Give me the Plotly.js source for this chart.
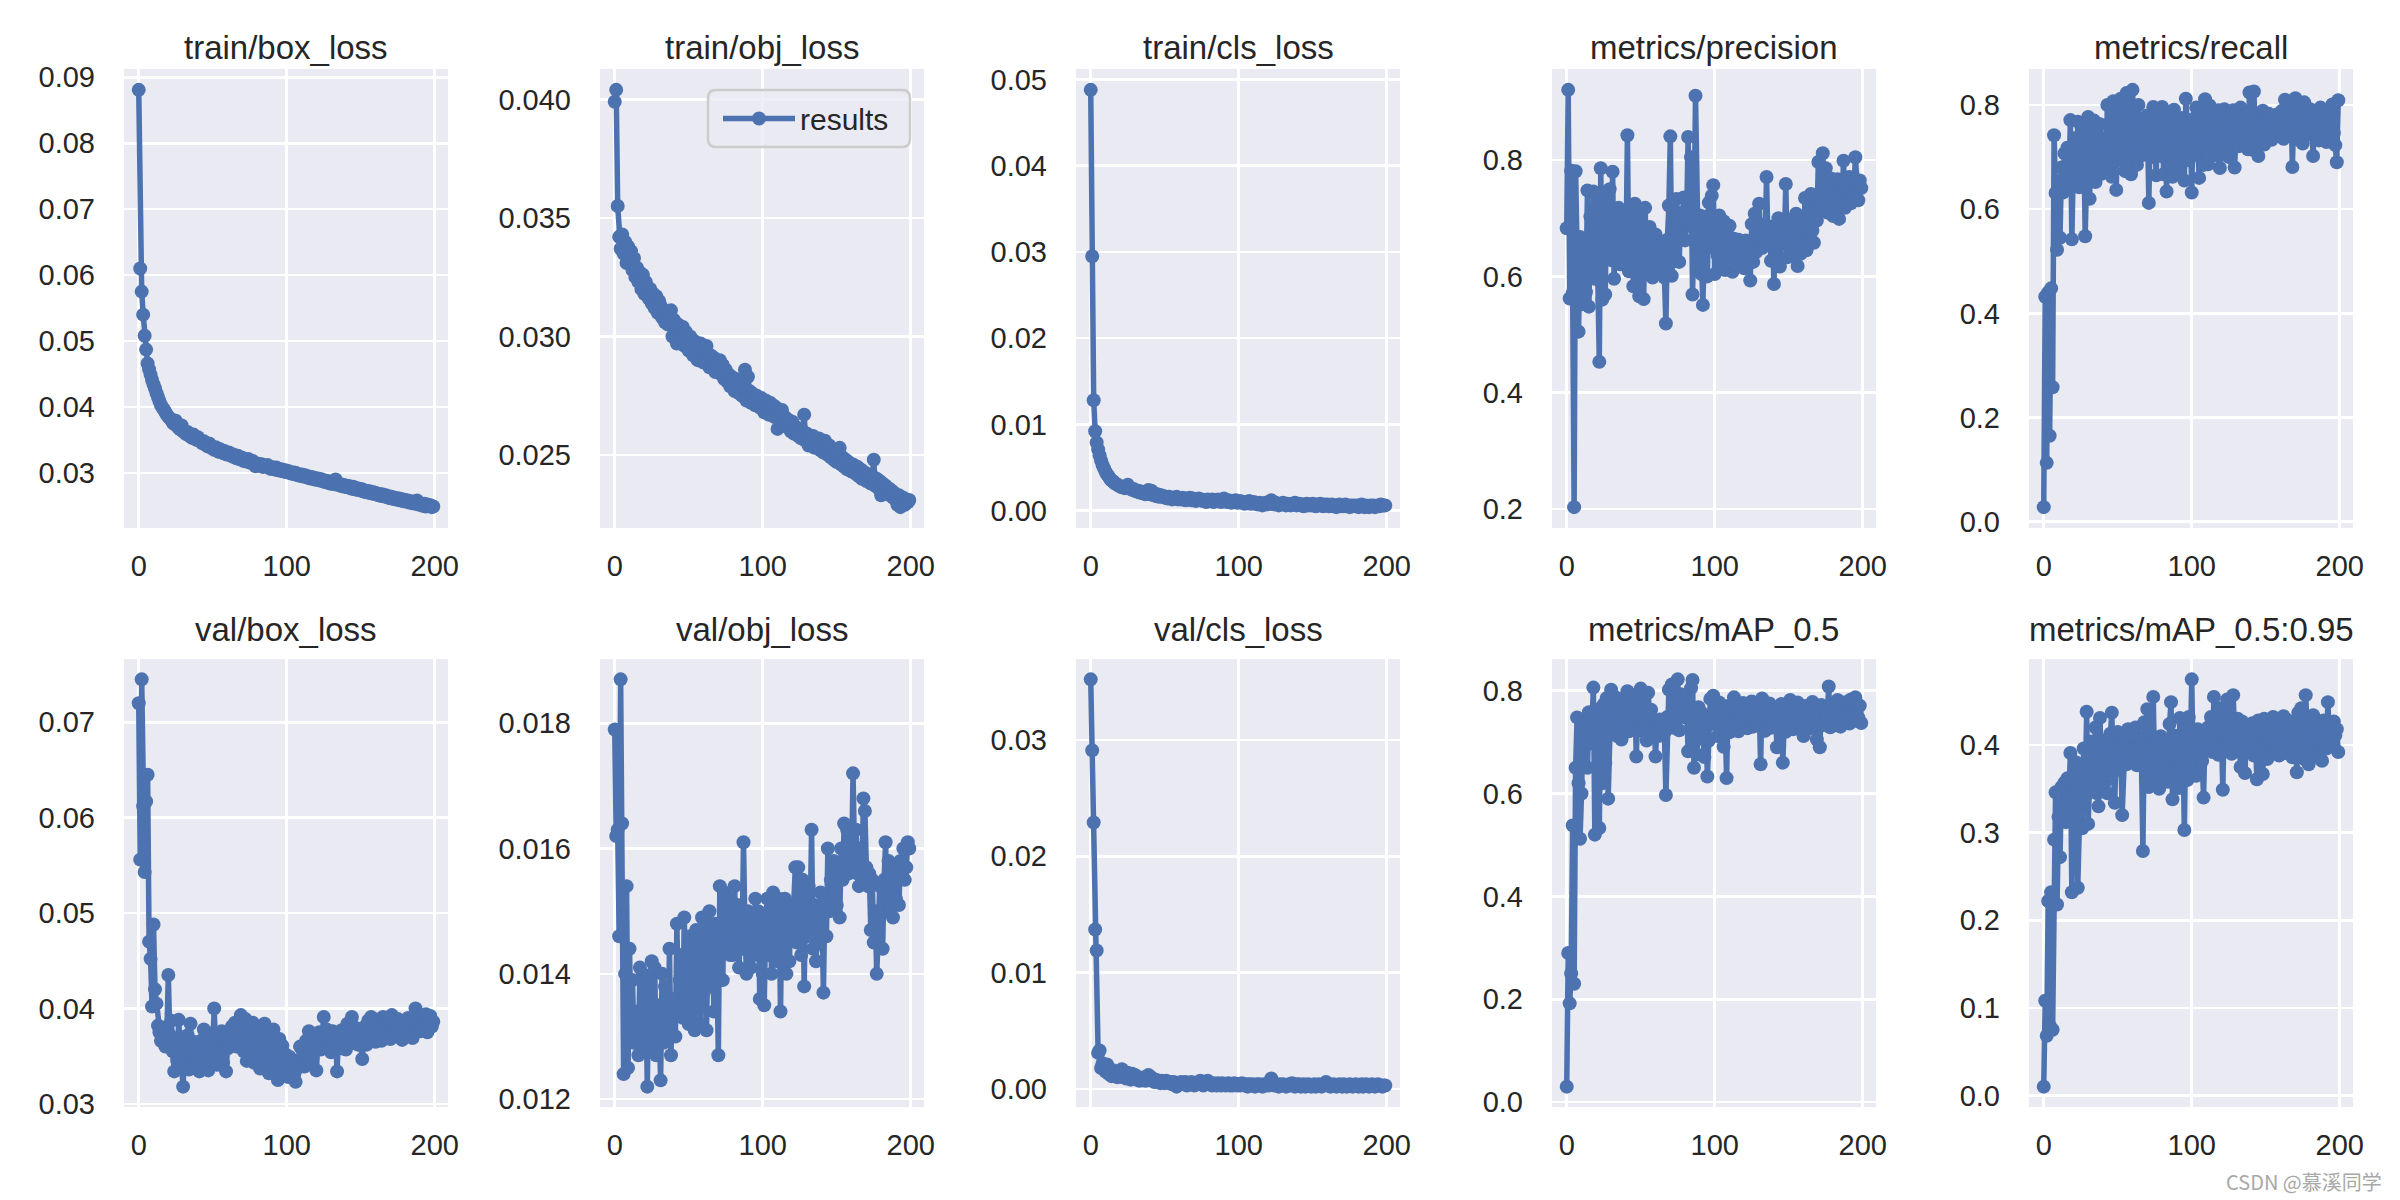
<!DOCTYPE html>
<html>
<head>
<meta charset="utf-8">
<script src="https://cdn.plot.ly/plotly-3.0.1.min.js"></script>
<style>html,body{margin:0;padding:0;background:#fff}#chart{width:2400px;height:1200px}</style>
</head>
<body>
<div id="chart"></div>
<script>
const panelTitles = ["train/box_loss","train/obj_loss","train/cls_loss","metrics/precision","metrics/recall",
  "val/box_loss","val/obj_loss","val/cls_loss","metrics/mAP_0.5","metrics/mAP_0.5:0.95"];
const legendLabel = "results";
const watermark = "CSDN @慕溪同学";

const trainBox = [
0.0881,0.0610,0.0575,0.0540,0.0508,0.0487,0.0466,0.0457,0.0449,0.0441,0.0434,0.0428,0.0421,0.0415,0.0409,0.0403,0.0399,0.0396,0.0392,0.0388,
0.0385,0.0383,0.0380,0.0376,0.0374,0.0379,0.0371,0.0368,0.0366,0.0372,0.0363,0.0361,0.0359,0.0362,0.0357,0.0355,0.0353,0.0358,0.0352,0.0350,
0.0354,0.0349,0.0347,0.0345,0.0348,0.0343,0.0341,0.0340,0.0344,0.0338,0.0337,0.0335,0.0339,0.0334,0.0332,0.0336,0.0331,0.0330,0.0333,0.0328,
0.0329,0.0331,0.0327,0.0325,0.0328,0.0324,0.0322,0.0326,0.0321,0.0320,0.0323,0.0318,0.0319,0.0317,0.0321,0.0316,0.0315,0.0318,0.0313,0.0310,
0.0312,0.0314,0.0311,0.0313,0.0309,0.0311,0.0310,0.0312,0.0308,0.0306,0.0309,0.0307,0.0305,0.0308,0.0304,0.0306,0.0303,0.0305,0.0302,0.0304,
0.0301,0.0303,0.0300,0.0299,0.0301,0.0298,0.0300,0.0297,0.0296,0.0298,0.0295,0.0297,0.0294,0.0296,0.0293,0.0292,0.0294,0.0291,0.0293,0.0290,
0.0292,0.0289,0.0291,0.0288,0.0290,0.0287,0.0286,0.0288,0.0285,0.0284,0.0286,0.0283,0.0285,0.0290,0.0282,0.0284,0.0281,0.0280,0.0282,0.0279,
0.0281,0.0278,0.0280,0.0277,0.0276,0.0279,0.0275,0.0277,0.0274,0.0276,0.0273,0.0275,0.0272,0.0271,0.0273,0.0270,0.0272,0.0269,0.0271,0.0268,
0.0270,0.0267,0.0266,0.0268,0.0265,0.0267,0.0264,0.0266,0.0263,0.0262,0.0264,0.0261,0.0263,0.0260,0.0262,0.0259,0.0261,0.0258,0.0260,0.0257,
0.0259,0.0256,0.0258,0.0255,0.0257,0.0254,0.0256,0.0253,0.0258,0.0252,0.0254,0.0251,0.0250,0.0253,0.0249,0.0252,0.0250,0.0251,0.0248,0.0249];

const trainObj = [
0.0399,0.0404,0.0355,0.0342,0.0337,0.0343,0.0335,0.0340,0.0331,0.0338,0.0333,0.0336,0.0328,0.0333,0.0325,0.0329,0.0323,0.0327,0.0320,0.0326,
0.0318,0.0323,0.0321,0.0316,0.0320,0.0314,0.0318,0.0312,0.0317,0.0310,0.0315,0.0313,0.0308,0.0311,0.0306,0.0310,0.0305,0.0308,0.0311,0.0300,
0.0307,0.0303,0.0297,0.0305,0.0301,0.0299,0.0304,0.0296,0.0302,0.0298,0.0294,0.0300,0.0296,0.0292,0.0298,0.0295,0.0290,0.0294,0.0297,0.0291,
0.0289,0.0293,0.0296,0.0290,0.0287,0.0292,0.0288,0.0291,0.0285,0.0289,0.0286,0.0290,0.0284,0.0288,0.0282,0.0286,0.0281,0.0284,0.0279,0.0283,
0.0280,0.0277,0.0282,0.0278,0.0276,0.0281,0.0275,0.0279,0.0286,0.0273,0.0283,0.0277,0.0272,0.0276,0.0274,0.0271,0.0275,0.0273,0.0270,0.0274,
0.0272,0.0268,0.0273,0.0270,0.0267,0.0272,0.0269,0.0271,0.0266,0.0270,0.0261,0.0268,0.0264,0.0269,0.0263,0.0266,0.0262,0.0265,0.0263,0.0260,
0.0264,0.0259,0.0262,0.0260,0.0258,0.0261,0.0257,0.0260,0.0267,0.0256,0.0259,0.0254,0.0257,0.0255,0.0258,0.0253,0.0256,0.0254,0.0257,0.0252,
0.0255,0.0251,0.0256,0.0253,0.0250,0.0254,0.0249,0.0252,0.0248,0.0251,0.0247,0.0250,0.0253,0.0246,0.0249,0.0245,0.0248,0.0244,0.0247,0.0245,
0.0243,0.0246,0.0244,0.0242,0.0245,0.0241,0.0244,0.0240,0.0243,0.0241,0.0239,0.0242,0.0240,0.0238,0.0241,0.0248,0.0237,0.0240,0.0236,0.0239,
0.0233,0.0238,0.0235,0.0237,0.0234,0.0236,0.0233,0.0235,0.0232,0.0234,0.0231,0.0229,0.0233,0.0228,0.0230,0.0232,0.0229,0.0231,0.0230,0.0231];

const trainCls = [
0.0488,0.0295,0.0128,0.0092,0.0079,0.0071,0.0064,0.0058,0.0053,0.0049,0.0045,0.0042,0.0040,0.0037,0.0035,0.0034,0.0032,0.0031,0.0030,0.0029,
0.0028,0.0027,0.0027,0.0026,0.0028,0.0030,0.0026,0.0025,0.0024,0.0025,0.0023,0.0022,0.0023,0.0021,0.0022,0.0020,0.0021,0.0019,0.0020,0.0024,
0.0019,0.0023,0.0018,0.0020,0.0017,0.0019,0.0016,0.0018,0.0016,0.0017,0.0015,0.0016,0.0014,0.0016,0.0015,0.0013,0.0015,0.0014,0.0016,0.0013,
0.0014,0.0013,0.0015,0.0014,0.0012,0.0014,0.0013,0.0015,0.0012,0.0014,0.0013,0.0011,0.0013,0.0014,0.0012,0.0013,0.0011,0.0012,0.0010,0.0013,
0.0012,0.0011,0.0013,0.0010,0.0012,0.0011,0.0013,0.0011,0.0010,0.0012,0.0014,0.0011,0.0010,0.0012,0.0011,0.0009,0.0011,0.0010,0.0012,0.0009,
0.0010,0.0011,0.0009,0.0010,0.0008,0.0010,0.0009,0.0011,0.0008,0.0009,0.0010,0.0008,0.0009,0.0007,0.0009,0.0008,0.0006,0.0008,0.0009,0.0007,
0.0008,0.0010,0.0012,0.0008,0.0007,0.0009,0.0008,0.0006,0.0008,0.0007,0.0009,0.0007,0.0006,0.0008,0.0007,0.0006,0.0008,0.0007,0.0009,0.0006,
0.0007,0.0008,0.0006,0.0007,0.0005,0.0007,0.0008,0.0006,0.0007,0.0006,0.0008,0.0006,0.0005,0.0007,0.0006,0.0008,0.0006,0.0005,0.0007,0.0006,
0.0007,0.0005,0.0006,0.0007,0.0005,0.0006,0.0004,0.0006,0.0007,0.0005,0.0006,0.0005,0.0007,0.0005,0.0006,0.0004,0.0006,0.0005,0.0006,0.0005,
0.0006,0.0004,0.0005,0.0007,0.0005,0.0004,0.0006,0.0005,0.0004,0.0006,0.0005,0.0006,0.0004,0.0005,0.0006,0.0005,0.0007,0.0006,0.0006,0.0006];

const precision = [
0.683,0.921,0.562,0.782,0.571,0.203,0.781,0.623,0.505,0.668,0.552,0.662,0.610,0.573,0.748,0.548,0.703,0.612,0.746,0.596,
0.741,0.640,0.453,0.786,0.560,0.686,0.569,0.744,0.700,0.750,0.628,0.780,0.596,0.690,0.658,0.718,0.621,0.702,0.660,0.712,
0.632,0.843,0.609,0.695,0.720,0.583,0.725,0.651,0.661,0.566,0.706,0.641,0.561,0.718,0.604,0.646,0.685,0.648,0.598,0.636,
0.672,0.620,0.659,0.612,0.637,0.658,0.598,0.519,0.663,0.722,0.841,0.601,0.690,0.626,0.733,0.694,0.625,0.710,0.668,0.736,
0.662,0.697,0.840,0.703,0.805,0.569,0.682,0.911,0.648,0.618,0.705,0.604,0.551,0.667,0.703,0.600,0.727,0.650,0.739,0.757,
0.604,0.692,0.636,0.705,0.621,0.663,0.695,0.611,0.679,0.632,0.687,0.656,0.608,0.665,0.652,0.620,0.663,0.640,0.627,0.646,
0.614,0.662,0.635,0.653,0.593,0.690,0.625,0.708,0.642,0.670,0.725,0.669,0.649,0.689,0.660,0.771,0.655,0.686,0.627,0.680,
0.587,0.676,0.651,0.700,0.617,0.661,0.693,0.656,0.759,0.633,0.682,0.648,0.698,0.637,0.666,0.708,0.618,0.681,0.639,0.702,
0.654,0.735,0.645,0.706,0.661,0.742,0.679,0.658,0.716,0.696,0.797,0.733,0.714,0.812,0.741,0.786,0.710,0.757,0.725,0.768,
0.704,0.746,0.723,0.767,0.699,0.741,0.730,0.799,0.718,0.754,0.735,0.771,0.726,0.760,0.744,0.805,0.748,0.731,0.765,0.752];

const recall = [
0.028,0.432,0.113,0.440,0.165,0.448,0.258,0.742,0.631,0.522,0.654,0.545,0.680,0.632,0.707,0.660,0.718,0.640,0.771,0.542,
0.688,0.736,0.660,0.768,0.642,0.733,0.672,0.758,0.548,0.711,0.777,0.620,0.745,0.690,0.770,0.652,0.748,0.700,0.763,0.668,
0.712,0.735,0.675,0.800,0.709,0.766,0.662,0.807,0.726,0.637,0.786,0.694,0.812,0.712,0.761,0.673,0.823,0.730,0.787,0.667,
0.829,0.741,0.773,0.685,0.800,0.718,0.767,0.704,0.753,0.724,0.780,0.612,0.762,0.700,0.796,0.718,0.665,0.791,0.738,0.702,
0.796,0.667,0.752,0.634,0.785,0.712,0.770,0.662,0.791,0.726,0.684,0.758,0.667,0.775,0.717,0.655,0.812,0.731,0.694,0.768,
0.632,0.773,0.706,0.795,0.719,0.660,0.787,0.729,0.685,0.811,0.742,0.686,0.799,0.733,0.761,0.720,0.776,0.703,0.790,0.679,
0.757,0.736,0.792,0.719,0.766,0.700,0.778,0.745,0.790,0.680,0.754,0.775,0.721,0.795,0.743,0.770,0.722,0.782,0.715,0.824,
0.757,0.714,0.826,0.737,0.778,0.702,0.768,0.750,0.789,0.724,0.776,0.742,0.783,0.755,0.733,0.769,0.747,0.781,0.741,0.772,
0.751,0.789,0.735,0.810,0.758,0.776,0.741,0.803,0.681,0.791,0.813,0.749,0.771,0.732,0.799,0.726,0.805,0.757,0.780,0.744,
0.792,0.761,0.702,0.786,0.748,0.768,0.732,0.795,0.759,0.742,0.777,0.729,0.762,0.787,0.733,0.801,0.746,0.723,0.690,0.809];

const valBox = [
0.0720,0.0556,0.0745,0.0612,0.0543,0.0617,0.0645,0.0470,0.0452,0.0402,0.0488,0.0420,0.0405,0.0382,0.0375,0.0366,0.0380,0.0371,0.0360,0.0375,
0.0435,0.0372,0.0387,0.0355,0.0334,0.0368,0.0346,0.0388,0.0352,0.0337,0.0318,0.0360,0.0343,0.0372,0.0336,0.0384,0.0351,0.0365,0.0341,0.0358,
0.0347,0.0334,0.0366,0.0352,0.0378,0.0340,0.0361,0.0335,0.0374,0.0345,0.0362,0.0400,0.0354,0.0341,0.0369,0.0350,0.0376,0.0343,0.0366,0.0334,
0.0358,0.0372,0.0363,0.0381,0.0366,0.0385,0.0360,0.0377,0.0369,0.0393,0.0374,0.0355,0.0389,0.0345,0.0380,0.0350,0.0366,0.0385,0.0343,0.0372,
0.0348,0.0366,0.0337,0.0378,0.0352,0.0384,0.0340,0.0362,0.0332,0.0371,0.0346,0.0378,0.0337,0.0354,0.0325,0.0368,0.0343,0.0361,0.0334,0.0352,
0.0340,0.0328,0.0349,0.0336,0.0344,0.0330,0.0323,0.0345,0.0338,0.0360,0.0342,0.0354,0.0339,0.0366,0.0351,0.0376,0.0344,0.0368,0.0357,0.0372,
0.0335,0.0362,0.0375,0.0357,0.0370,0.0391,0.0366,0.0378,0.0359,0.0372,0.0354,0.0376,0.0363,0.0369,0.0334,0.0372,0.0362,0.0377,0.0358,0.0368,
0.0357,0.0384,0.0363,0.0375,0.0391,0.0367,0.0380,0.0371,0.0362,0.0378,0.0366,0.0347,0.0373,0.0381,0.0362,0.0387,0.0369,0.0391,0.0374,0.0383,
0.0365,0.0388,0.0372,0.0380,0.0366,0.0391,0.0376,0.0383,0.0370,0.0388,0.0368,0.0393,0.0378,0.0386,0.0374,0.0389,0.0370,0.0382,0.0367,0.0379,
0.0385,0.0372,0.0390,0.0377,0.0383,0.0369,0.0387,0.0400,0.0381,0.0393,0.0376,0.0390,0.0384,0.0379,0.0394,0.0375,0.0388,0.0392,0.0381,0.0386];

const valObj = [
0.0179,0.0162,0.0163,0.0146,0.0187,0.0164,0.0124,0.0140,0.0154,0.0125,0.0144,0.0131,0.0139,0.0129,0.0134,0.0130,0.0127,0.0141,0.0128,0.0140,
0.0130,0.0137,0.0122,0.0139,0.0128,0.0142,0.0130,0.0141,0.0127,0.0135,0.0132,0.0123,0.0140,0.0129,0.0138,0.0130,0.0131,0.0144,0.0127,0.0136,
0.0133,0.0130,0.0148,0.0134,0.0139,0.0143,0.0133,0.0149,0.0137,0.0141,0.0132,0.0146,0.0140,0.0135,0.0131,0.0147,0.0138,0.0144,0.0132,0.0149,
0.0137,0.0148,0.0131,0.0145,0.0150,0.0138,0.0146,0.0134,0.0148,0.0141,0.0127,0.0154,0.0145,0.0139,0.0153,0.0144,0.0147,0.0152,0.0143,0.0149,
0.0143,0.0154,0.0145,0.0151,0.0141,0.0149,0.0144,0.0161,0.0147,0.0140,0.0150,0.0145,0.0141,0.0148,0.0143,0.0152,0.0144,0.0150,0.0136,0.0149,
0.0140,0.0135,0.0148,0.0152,0.0143,0.0150,0.0140,0.0153,0.0145,0.0148,0.0142,0.0152,0.0134,0.0150,0.0144,0.0152,0.0140,0.0147,0.0142,0.0150,
0.0146,0.0151,0.0157,0.0145,0.0157,0.0150,0.0143,0.0155,0.0138,0.0152,0.0146,0.0154,0.0148,0.0163,0.0144,0.0151,0.0142,0.0150,0.0145,0.0153,
0.0149,0.0137,0.0152,0.0146,0.0160,0.0150,0.0155,0.0152,0.0158,0.0153,0.0151,0.0157,0.0149,0.0160,0.0155,0.0164,0.0158,0.0163,0.0156,0.0161,
0.0157,0.0172,0.0159,0.0163,0.0156,0.0154,0.0160,0.0155,0.0168,0.0166,0.0157,0.0154,0.0156,0.0147,0.0155,0.0145,0.0150,0.0140,0.0146,0.0154,
0.0150,0.0144,0.0155,0.0161,0.0152,0.0158,0.0150,0.0156,0.0149,0.0157,0.0152,0.0155,0.0151,0.0158,0.0156,0.0160,0.0155,0.0157,0.0161,0.0160];

const valCls = [
0.0352,0.0291,0.0229,0.0137,0.0119,0.0031,0.0033,0.0018,0.0022,0.0019,0.0015,0.0021,0.0013,0.0017,0.0011,0.0016,0.0012,0.0014,0.0010,0.0015,
0.0012,0.0017,0.0010,0.0013,0.0009,0.0014,0.0011,0.0008,0.0013,0.0010,0.0012,0.0008,0.0010,0.0007,0.0009,0.0008,0.0010,0.0007,0.0009,0.0012,
0.0008,0.0010,0.0007,0.0006,0.0008,0.0006,0.0007,0.0005,0.0007,0.0006,0.0005,0.0007,0.0006,0.0005,0.0006,0.0004,0.0006,0.0005,0.0002,0.0005,
0.0004,0.0006,0.0005,0.0004,0.0006,0.0003,0.0005,0.0004,0.0006,0.0004,0.0003,0.0005,0.0004,0.0006,0.0007,0.0004,0.0003,0.0005,0.0004,0.0007,
0.0004,0.0005,0.0003,0.0005,0.0004,0.0003,0.0005,0.0004,0.0003,0.0005,0.0004,0.0003,0.0004,0.0005,0.0003,0.0004,0.0003,0.0005,0.0004,0.0003,
0.0004,0.0003,0.0005,0.0004,0.0003,0.0004,0.0002,0.0004,0.0003,0.0004,0.0003,0.0002,0.0004,0.0003,0.0004,0.0003,0.0002,0.0004,0.0003,0.0004,
0.0003,0.0005,0.0009,0.0004,0.0003,0.0004,0.0003,0.0002,0.0004,0.0003,0.0004,0.0003,0.0002,0.0003,0.0004,0.0003,0.0005,0.0003,0.0002,0.0004,
0.0003,0.0004,0.0002,0.0003,0.0004,0.0002,0.0003,0.0004,0.0003,0.0002,0.0003,0.0004,0.0002,0.0003,0.0004,0.0003,0.0002,0.0003,0.0004,0.0006,
0.0003,0.0004,0.0002,0.0003,0.0004,0.0003,0.0002,0.0003,0.0004,0.0003,0.0002,0.0004,0.0003,0.0002,0.0003,0.0004,0.0003,0.0002,0.0003,0.0004,
0.0003,0.0002,0.0003,0.0004,0.0002,0.0003,0.0004,0.0003,0.0002,0.0003,0.0004,0.0003,0.0002,0.0003,0.0004,0.0003,0.0003,0.0002,0.0003,0.0003];

const mAP50 = [
0.030,0.290,0.192,0.250,0.538,0.230,0.650,0.748,0.620,0.512,0.600,0.722,0.695,0.741,0.650,0.758,0.698,0.733,0.806,0.520,
0.704,0.752,0.533,0.766,0.620,0.773,0.659,0.786,0.590,0.742,0.802,0.725,0.761,0.787,0.712,0.772,0.748,0.705,0.785,0.760,
0.733,0.799,0.721,0.771,0.744,0.730,0.790,0.672,0.757,0.731,0.804,0.722,0.785,0.740,0.703,0.796,0.751,0.763,0.718,0.742,
0.672,0.735,0.712,0.744,0.727,0.739,0.718,0.597,0.749,0.802,0.743,0.812,0.728,0.781,0.757,0.822,0.723,0.793,0.766,0.789,
0.748,0.771,0.682,0.759,0.805,0.821,0.650,0.740,0.676,0.768,0.722,0.757,0.706,0.671,0.748,0.633,0.703,0.784,0.735,0.790,
0.760,0.741,0.712,0.777,0.733,0.758,0.691,0.747,0.630,0.770,0.719,0.766,0.728,0.787,0.742,0.755,0.721,0.760,0.734,0.776,
0.738,0.752,0.727,0.764,0.745,0.779,0.730,0.741,0.758,0.733,0.771,0.657,0.785,0.749,0.722,0.768,0.739,0.775,0.728,0.760,
0.743,0.765,0.690,0.751,0.732,0.774,0.660,0.744,0.720,0.761,0.737,0.782,0.748,0.725,0.766,0.740,0.777,0.731,0.759,0.745,
0.712,0.770,0.738,0.764,0.727,0.751,0.778,0.739,0.761,0.705,0.748,0.690,0.772,0.733,0.763,0.741,0.753,0.808,0.729,0.768,
0.744,0.757,0.733,0.782,0.746,0.730,0.771,0.752,0.739,0.778,0.760,0.736,0.783,0.755,0.741,0.787,0.762,0.748,0.771,0.737];

const mAP5095 = [
0.010,0.108,0.068,0.222,0.080,0.232,0.075,0.292,0.346,0.218,0.318,0.272,0.352,0.330,0.357,0.312,0.362,0.340,0.391,0.232,
0.360,0.336,0.380,0.237,0.355,0.372,0.305,0.396,0.341,0.438,0.310,0.385,0.404,0.352,0.372,0.420,0.345,0.330,0.431,0.372,
0.392,0.357,0.405,0.345,0.388,0.413,0.437,0.369,0.334,0.398,0.415,0.376,0.402,0.320,0.388,0.409,0.378,0.418,0.385,0.395,
0.411,0.382,0.420,0.377,0.409,0.398,0.385,0.279,0.426,0.360,0.441,0.352,0.395,0.372,0.455,0.362,0.405,0.381,0.350,0.410,
0.378,0.402,0.362,0.395,0.358,0.424,0.449,0.338,0.411,0.370,0.395,0.351,0.431,0.378,0.407,0.303,0.418,0.360,0.432,0.390,
0.475,0.372,0.410,0.365,0.418,0.395,0.408,0.382,0.340,0.411,0.398,0.420,0.405,0.432,0.392,0.455,0.410,0.428,0.389,0.442,
0.416,0.349,0.435,0.402,0.452,0.398,0.421,0.390,0.457,0.411,0.395,0.430,0.405,0.375,0.427,0.398,0.368,0.415,0.392,0.420,
0.400,0.425,0.388,0.410,0.361,0.428,0.395,0.418,0.367,0.430,0.402,0.384,0.424,0.405,0.393,0.432,0.411,0.396,0.426,0.388,
0.420,0.402,0.433,0.391,0.415,0.428,0.398,0.410,0.386,0.425,0.405,0.369,0.437,0.395,0.442,0.418,0.384,0.457,0.405,0.378,
0.425,0.398,0.434,0.410,0.387,0.421,0.403,0.415,0.382,0.428,0.412,0.396,0.449,0.408,0.420,0.402,0.427,0.411,0.418,0.392];

const series = [trainBox, trainObj, trainCls, precision, recall, valBox, valObj, valCls, mAP50, mAP5095];
const yTickStep = [0.01, 0.005, 0.01, 0.2, 0.2, 0.01, 0.002, 0.01, 0.2, 0.1];
const yTickFmt = [".2f", ".3f", ".2f", ".1f", ".1f", ".2f", ".3f", ".2f", ".1f", ".1f"];
const xTickStep = 100;

const W = 2400, H = 1200;
const colLeft = [124, 600, 1076, 1552, 2029];
const colWidth = 324;
const rowTop = [69, 659];
const rowBottom = [528, 1107];
const titleY = [47, 629];

const BLUE = "#4C72B0";
const TXT = "#262626";
const FONT = "'Liberation Sans', Arial, Helvetica, sans-serif";

// legend frame (px) in panel 2
const LB = {x0: 708, x1: 910, y0: 90, y1: 147, r: 8};

const traces = [];
const layout = {
  width: W, height: H,
  margin: {l: 0, r: 0, t: 0, b: 0},
  paper_bgcolor: "#ffffff",
  plot_bgcolor: "#EAEAF2",
  font: {family: FONT, color: TXT, size: 29},
  showlegend: true,
  legend: {
    x: (LB.x0 + 10) / W, xanchor: "left", y: 1 - ((LB.y0 + LB.y1) / 2) / H, yanchor: "middle",
    bgcolor: "rgba(0,0,0,0)", borderwidth: 0,
    font: {family: FONT, size: 30, color: TXT}, itemwidth: 72
  },
  annotations: [],
  shapes: []
};

series.forEach((ys, i) => {
  const r = Math.floor(i / 5), c = i % 5;
  const idx = i + 1;
  const sfx = idx === 1 ? "" : String(idx);
  const epochs = ys.map((_, k) => k);
  traces.push({
    x: epochs, y: ys, type: "scatter", mode: "lines+markers",
    name: legendLabel, showlegend: i === 1,
    line: {color: BLUE, width: 5.5},
    marker: {color: BLUE, size: 14},
    xaxis: "x" + sfx, yaxis: "y" + sfx,
    hoverinfo: "skip"
  });
  const mn = Math.min(...ys), mx = Math.max(...ys);
  const pad = (mx - mn) * 0.05;
  const xmx = ys.length - 1, xpad = xmx * 0.05;
  layout["xaxis" + sfx] = {
    domain: [colLeft[c] / W, (colLeft[c] + colWidth) / W],
    anchor: "y" + sfx,
    range: [-xpad, xmx + xpad],
    tick0: 0, dtick: xTickStep, ticks: "", showline: false, zeroline: false,
    gridcolor: "#ffffff", gridwidth: 2.6,
    tickfont: {family: FONT, size: 29, color: TXT}, ticklabelstandoff: 18
  };
  layout["yaxis" + sfx] = {
    domain: [1 - rowBottom[r] / H, 1 - rowTop[r] / H],
    anchor: "x" + sfx,
    range: [mn - pad, mx + pad],
    tick0: 0, dtick: yTickStep[i], tickformat: yTickFmt[i],
    ticks: "", showline: false, zeroline: false,
    gridcolor: "#ffffff", gridwidth: 2.6,
    tickfont: {family: FONT, size: 29, color: TXT}, ticklabelstandoff: 28
  };
  layout.annotations.push({
    text: panelTitles[i], xref: "paper", yref: "paper",
    x: (colLeft[c] + colWidth / 2) / W, y: 1 - titleY[r] / H,
    xanchor: "center", yanchor: "middle", showarrow: false,
    font: {family: FONT, size: 33, color: TXT}
  });
});

// rounded legend frame
(function () {
  const px = v => v / W, py = v => 1 - v / H;
  const {x0, x1, y0, y1, r} = LB;
  const p = `M ${px(x0 + r)} ${py(y0)} L ${px(x1 - r)} ${py(y0)} Q ${px(x1)} ${py(y0)} ${px(x1)} ${py(y0 + r)} ` +
            `L ${px(x1)} ${py(y1 - r)} Q ${px(x1)} ${py(y1)} ${px(x1 - r)} ${py(y1)} ` +
            `L ${px(x0 + r)} ${py(y1)} Q ${px(x0)} ${py(y1)} ${px(x0)} ${py(y1 - r)} ` +
            `L ${px(x0)} ${py(y0 + r)} Q ${px(x0)} ${py(y0)} ${px(x0 + r)} ${py(y0)} Z`;
  layout.shapes.push({type: "path", xref: "paper", yref: "paper", path: p,
    fillcolor: "rgba(234,234,242,0.8)", line: {color: "#CCCCCC", width: 2.5}, layer: "above"});
})();

layout.annotations.push({
  text: watermark, xref: "paper", yref: "paper",
  x: 2384 / W, y: 1 - 1181 / H, xanchor: "right", yanchor: "middle",
  showarrow: false,
  font: {family: "'Noto Sans CJK SC', 'Liberation Sans', sans-serif", size: 20, color: "#A8A8A8"}
});

Plotly.newPlot("chart", traces, layout, {staticPlot: true, displayModeBar: false});
</script>
</body>
</html>
